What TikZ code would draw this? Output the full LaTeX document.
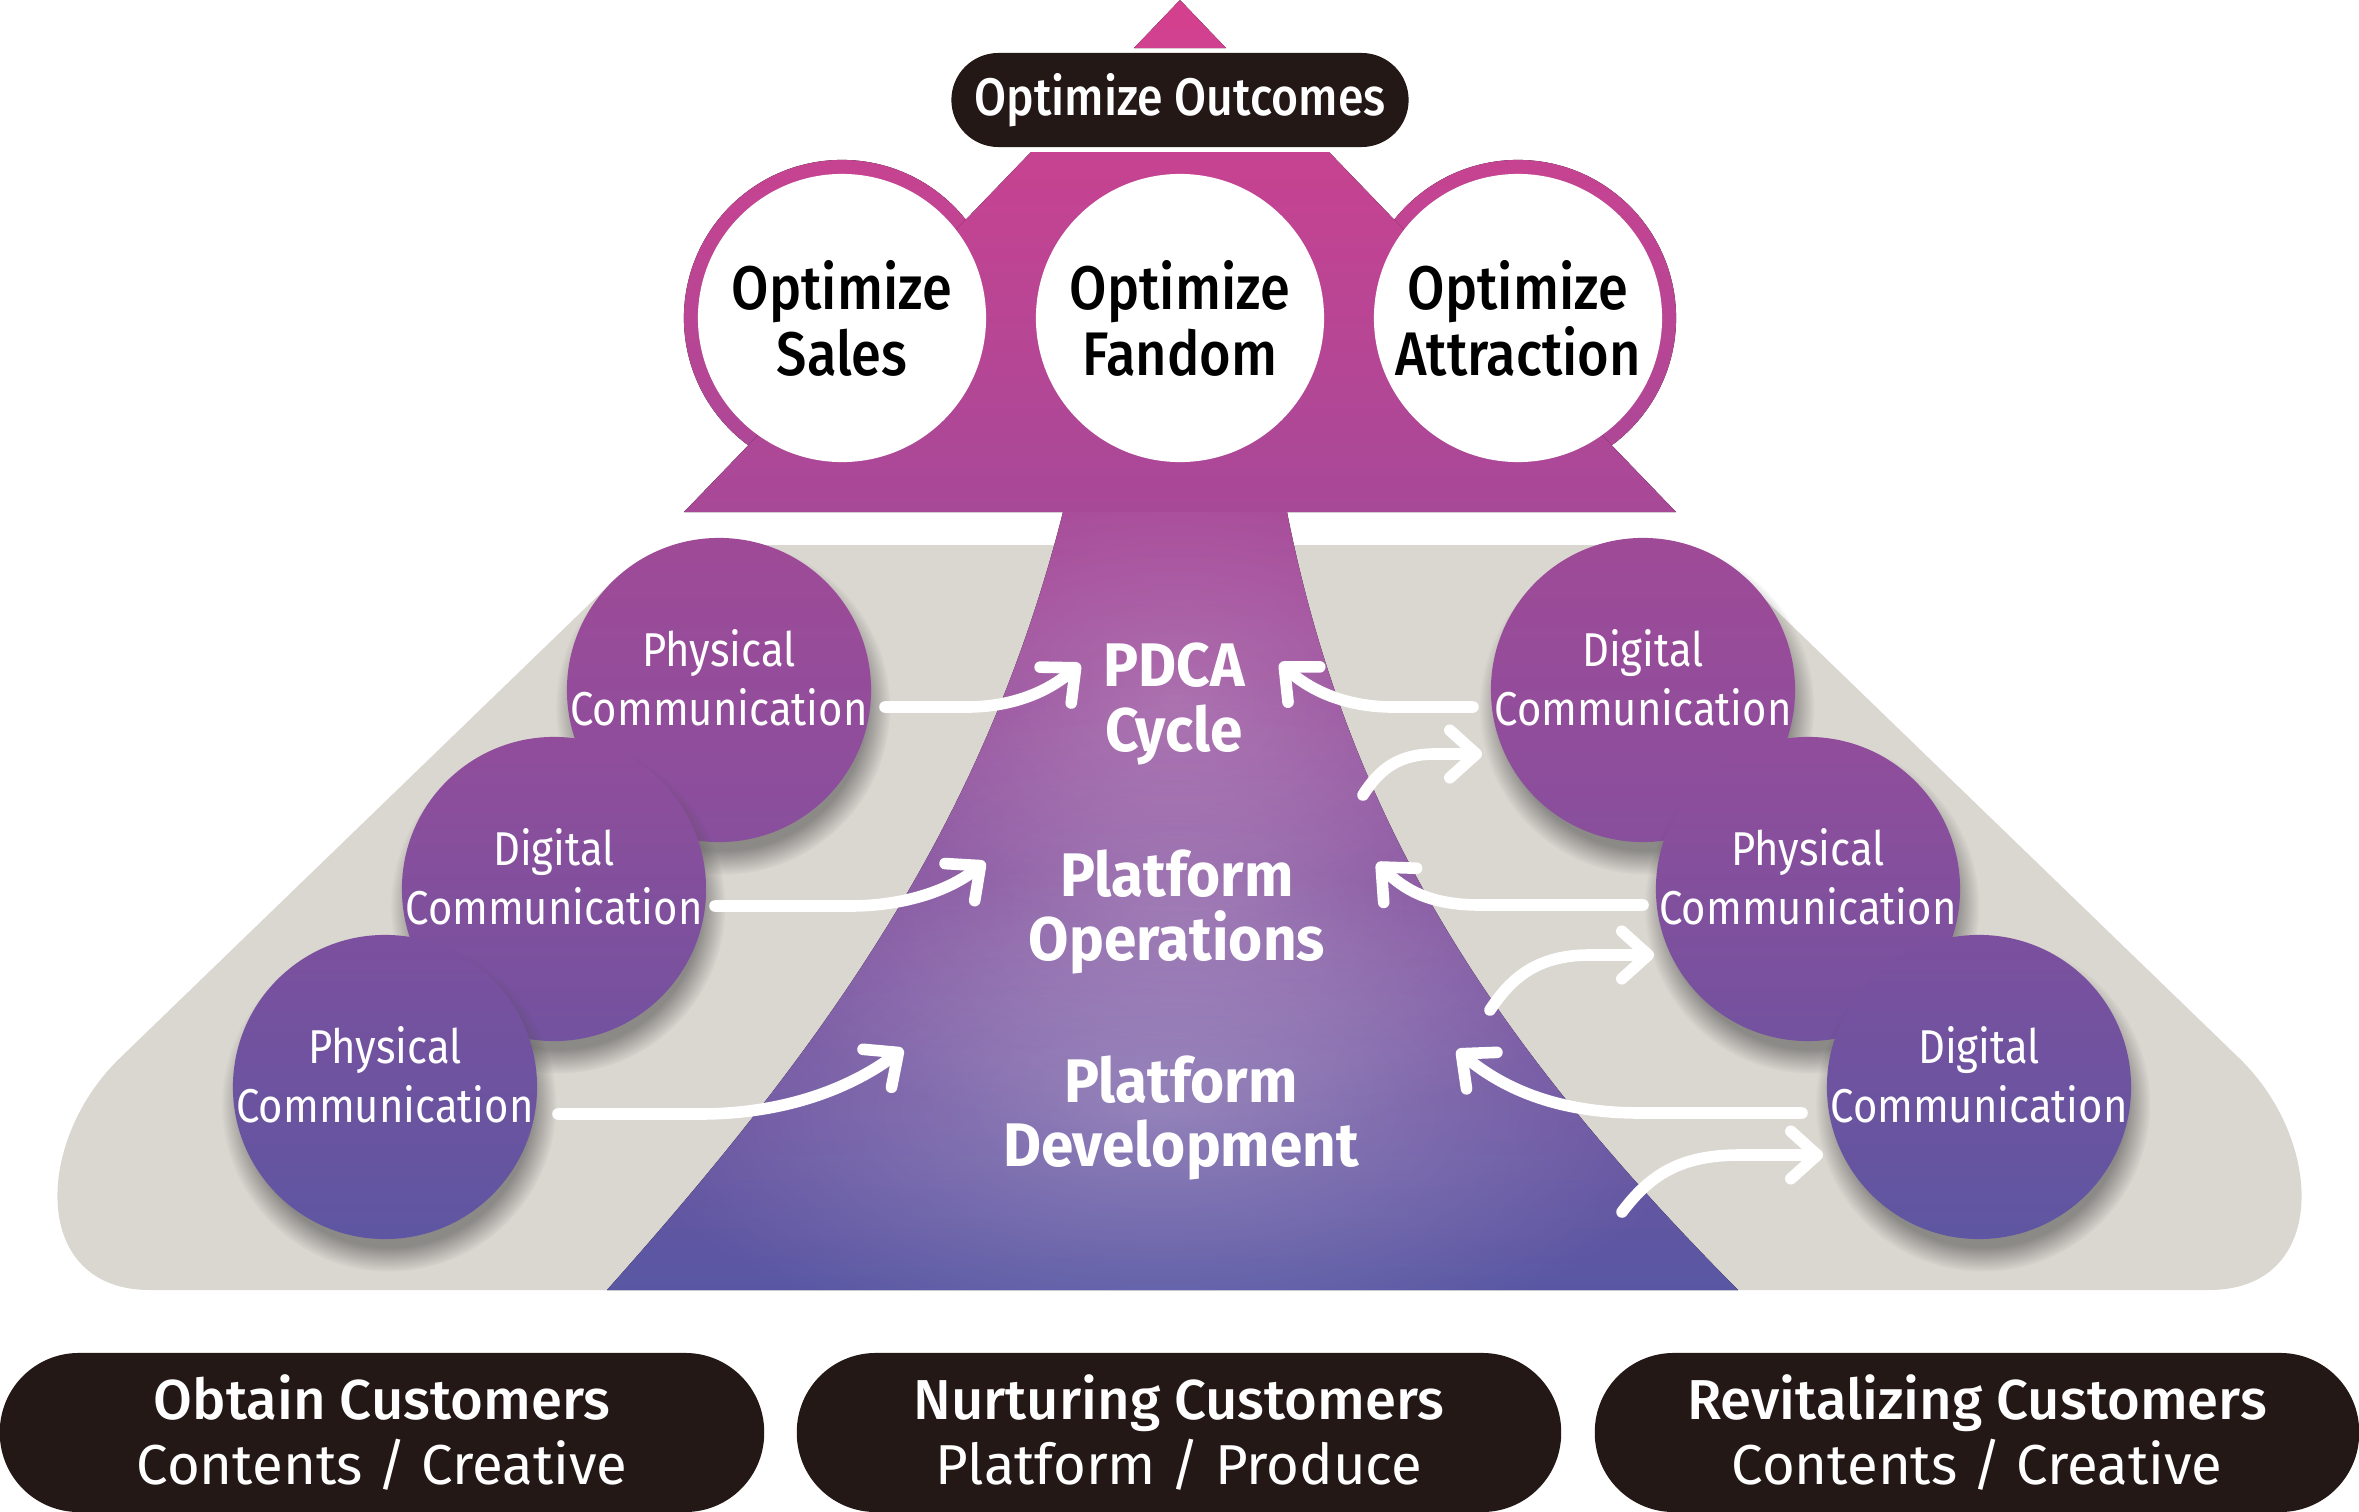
\documentclass[tikz,border=0pt]{standalone}
\usepackage{fontspec}
\setmainfont{Fira Sans}[FakeStretch=0.88]
\newfontfamily\plainfont{Fira Sans}
\newfontfamily\boldfont{Fira Sans Bold}[FakeStretch=0.95]
\IfFontExistsTF{Fira Sans Medium}
	{\newfontfamily\medfont{Fira Sans Medium}[FakeStretch=0.88]
	 \newfontfamily\plainmed{Fira Sans Medium}}
	{\newcommand\medfont{\bfseries}\newcommand\plainmed{\plainfont\bfseries}}
\usetikzlibrary{arrows.meta,calc,shadows,fadings}

\definecolor{pinktop}{HTML}{D4408E}
\definecolor{pinkmid}{HTML}{9C4B9A}
\definecolor{bluebot}{HTML}{5957A3}
\definecolor{ringtop}{HTML}{C64391}
\definecolor{ringbot}{HTML}{AB4897}
\definecolor{sandgray}{HTML}{DAD6D0}
\definecolor{pillblack}{HTML}{231815}
\definecolor{rowatop}{HTML}{9F4A97}
\definecolor{rowabot}{HTML}{884F9D}
\definecolor{rowbtop}{HTML}{914D9B}
\definecolor{rowbbot}{HTML}{73529F}
\definecolor{rowctop}{HTML}{7C509E}
\definecolor{rowcbot}{HTML}{5E56A2}

\tikzfading[name=glowfade, inner color=transparent!0, outer color=transparent!100]

\tikzset{
	sidecirc/.style={circle, minimum size=3.04cm, inner sep=0pt,
		circular drop shadow={shadow xshift=1pt, shadow yshift=-4.5pt, opacity=.55, fill=black!70}},
	sidetxt/.style={text=white, align=center, inner sep=0pt, font=\fontsize{13.5}{16.7}\selectfont},
	topcirc/.style={circle, fill=white, minimum size=2.88cm, inner sep=0pt, align=center,
		text=black, font=\medfont\fontsize{17.5}{18.8}\selectfont},
	midtxt/.style={text=white, align=center, inner sep=0pt, font=\boldfont\fontsize{17.5}{18.3}\selectfont},
	toppill/.style={fill=pillblack, rounded corners=0.47cm, minimum width=4.57cm, minimum height=0.94cm,
		inner sep=0pt, text=white, font=\medfont\fontsize{15}{18}\selectfont},
	botpill/.style={fill=pillblack, rounded corners=0.79cm, minimum width=7.64cm, minimum height=1.59cm,
		inner sep=0pt, text=white, align=center, font=\plainfont\fontsize{16}{18.5}\selectfont},
	arr/.style={draw=white, line width=3.3pt, line cap=round, -{Straight Barb[length=7.5pt,width=13.5pt,round]}},
}

\begin{document}
\begin{tikzpicture}[x=0.01cm, y=-0.01cm]
		%%%%% START %%%%%
		\useasboundingbox (0, 0) rectangle (2359, 1512);
		\fill[white] (0, 0) rectangle (2359, 1512);
		
		% grey base
		\fill[sandgray] (740, 545) .. controls (650, 545) and (650, 545) .. (575, 618)
			-- (120, 1058) .. controls (34, 1141) and (30, 1290) .. (150, 1290)
			-- (2209, 1290) .. controls (2329, 1290) and (2325, 1141) .. (2239, 1058)
			-- (1784, 618) .. controls (1709, 545) and (1709, 545) .. (1619, 545) -- cycle;
		
		% pink rings behind the outer goals
		\fill[top color=ringtop, bottom color=ringbot] (842, 318) circle [radius=1.58cm];
		\fill[top color=ringtop, bottom color=ringbot] (1518, 318) circle [radius=1.58cm];
		
		% tip, trapezoid and funnel
		\fill[top color=pinktop, bottom color=bluebot, middle color=pinkmid]
			(1180, 0) -- (1226, 48) -- (1134, 48) -- cycle
			(1031, 152) -- (1329, 152) -- (1676, 512) -- (1287, 512)
			.. controls (1350, 830) and (1500, 1050) .. (1738, 1290) -- (607, 1290)
			.. controls (830, 1040) and (985, 820) .. (1063, 512) -- (684, 512) -- cycle;
		
		\begin{scope}
			\clip (1063, 512) -- (1287, 512) .. controls (1350, 830) and (1500, 1050) .. (1738, 1290)
				-- (607, 1290) .. controls (830, 1040) and (985, 820) .. (1063, 512) -- cycle;
			\fill[white, opacity=.2, path fading=glowfade] (1176, 700) ellipse [x radius=3.4cm, y radius=2.3cm];
			\fill[white, opacity=.2, path fading=glowfade] (1180, 910) ellipse [x radius=4.6cm, y radius=2.3cm];
			\fill[white, opacity=.26, path fading=glowfade] (1160, 1110) ellipse [x radius=5.4cm, y radius=2.5cm];
		\end{scope}
		
		% goals
		\node[topcirc] (sales) at (842, 318) {Optimize\\Sales};
		\node[topcirc] (fandom) at (1180, 318) {Optimize\\Fandom};
		\node[topcirc] (attract) at (1518, 318) {Optimize\\Attraction};
		\node[toppill] (outcome) at (1180, 100) {Optimize Outcomes};
		
		% left side
		\node[sidecirc, top color=rowatop, bottom color=rowabot] (lc1) at (719, 690) {};
		\node[sidecirc, top color=rowbtop, bottom color=rowbbot] (lc2) at (554, 889) {};
		\node[sidecirc, top color=rowctop, bottom color=rowcbot] (lc3) at (385, 1087) {};
		\node[sidetxt] (lc1t) at (719, 678) {Physical\\Communication};
		\node[sidetxt] (lc2t) at (554, 877) {Digital\\Communication};
		\node[sidetxt] (lc3t) at (385, 1075) {Physical\\Communication};
		
		% right side
		\node[sidecirc, top color=rowatop, bottom color=rowabot] (rc1) at (1643, 690) {};
		\node[sidecirc, top color=rowbtop, bottom color=rowbbot] (rc2) at (1808, 889) {};
		\node[sidecirc, top color=rowctop, bottom color=rowcbot] (rc3) at (1979, 1087) {};
		\node[sidetxt] (rc1t) at (1643, 678) {Digital\\Communication};
		\node[sidetxt] (rc2t) at (1808, 877) {Physical\\Communication};
		\node[sidetxt] (rc3t) at (1979, 1075) {Digital\\Communication};
		
		% centre
		\node[midtxt] (pdca) at (1174, 704) {PDCA\\Cycle};
		\node[midtxt] (ops) at (1177, 912) {Platform\\Operations};
		\node[midtxt] (dev) at (1181, 1118) {Platform\\Development};
		
		% arrows
		\coordinate (a1s) at (885, 707); \coordinate (a1e) at (1080, 664);
		\coordinate (a2s) at (715, 906); \coordinate (a2e) at (985, 862);
		\coordinate (a3s) at (558, 1114); \coordinate (a3e) at (903, 1049);
		\coordinate (b1s) at (1473, 707); \coordinate (b1e) at (1280, 663);
		\coordinate (b2s) at (1643, 905); \coordinate (b2e) at (1377, 863);
		\coordinate (b3s) at (1802, 1113); \coordinate (b3e) at (1457, 1050);
		\coordinate (c1s) at (1363, 795); \coordinate (c1e) at (1482, 754);
		\coordinate (c2s) at (1490, 1010); \coordinate (c2e) at (1654, 955);
		\coordinate (c3s) at (1622, 1212); \coordinate (c3e) at (1823, 1155);
		
		\draw[arr] (a1s) -- ++(82, 0) .. controls +(48, 0) and +(-30, 26) .. (a1e);
		\draw[arr] (a2s) -- ++(135, 0) .. controls +(55, 0) and +(-35, 28) .. (a2e);
		\draw[arr] (a3s) -- ++(142, 0) .. controls +(90, 0) and +(-48, 36) .. (a3e);
		\draw[arr] (b1s) -- ++(-80, 0) .. controls +(-48, 0) and +(30, 27) .. (b1e);
		\draw[arr] (b2s) -- ++(-163, 0) .. controls +(-50, 0) and +(28, 27) .. (b2e);
		\draw[arr] (b3s) -- ++(-162, 0) .. controls +(-80, 0) and +(48, 40) .. (b3e);
		\draw[arr] (c1s) .. controls +(17, -27) and +(-35, 0) .. ($(c1e)+(-47, 0)$) -- (c1e);
		\draw[arr] (c2s) .. controls +(20, -30) and +(-55, 0) .. ($(c2e)+(-64, 0)$) -- (c2e);
		\draw[arr] (c3s) .. controls +(28, -37) and +(-60, 0) .. ($(c3e)+(-83, 0)$) -- (c3e);
		
		% stages
		\node[botpill] (obtain) at (382, 1432.5) {{\plainmed Obtain Customers}\\Contents / Creative};
		\node[botpill] (nurture) at (1179, 1432.5) {{\plainmed Nurturing Customers}\\Platform / Produce};
		\node[botpill] (revital) at (1977, 1432.5) {{\plainmed Revitalizing Customers}\\Contents / Creative};
		
		%%%%% END %%%%%
\end{tikzpicture}
\end{document}
